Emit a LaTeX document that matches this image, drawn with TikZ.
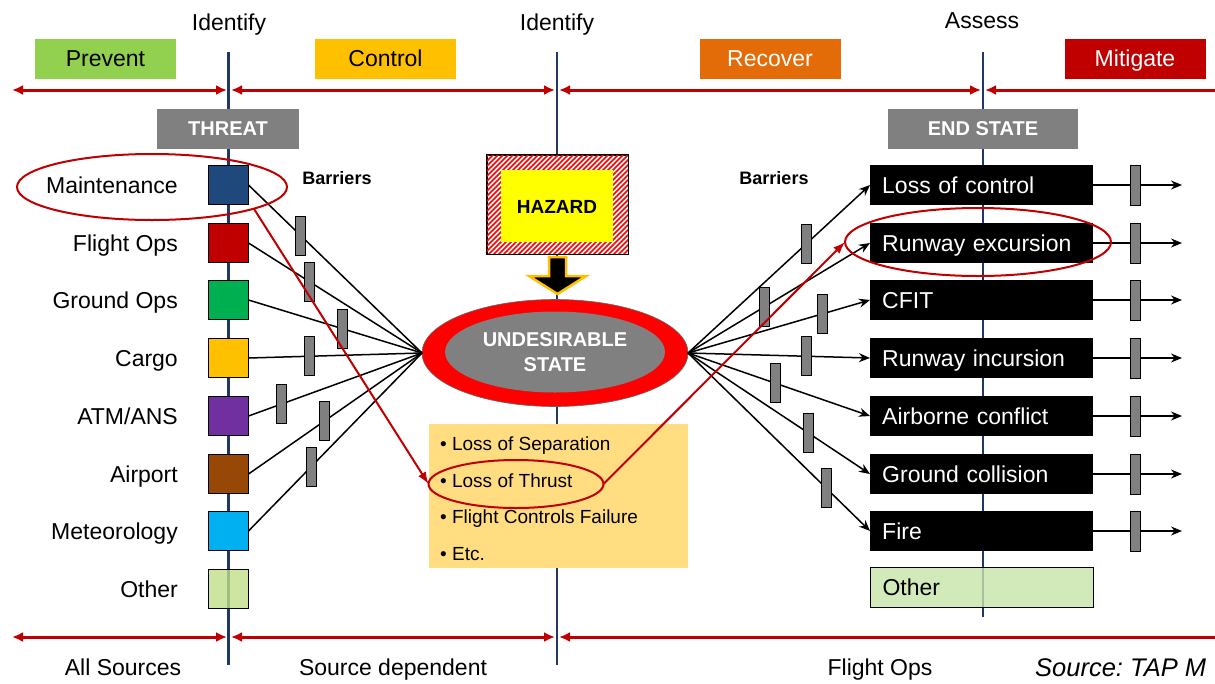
\documentclass[tikz,border=0pt]{standalone}
\usepackage{fontspec}
\setmainfont{Liberation Sans}
\usetikzlibrary{arrows.meta,shapes.geometric}

\definecolor{navy}{HTML}{1F3864}
\definecolor{darkred}{HTML}{C00000}
\definecolor{brightred}{HTML}{FF0000}
\definecolor{prevgreen}{HTML}{92D050}
\definecolor{amber}{HTML}{FFC000}
\definecolor{recorange}{HTML}{E36C09}
\definecolor{midgray}{HTML}{808080}
\definecolor{listbg}{HTML}{FFDD80}
\definecolor{hazyellow}{HTML}{FFFF00}
\definecolor{cmaint}{HTML}{1F497D}
\definecolor{cground}{HTML}{00B050}
\definecolor{catm}{HTML}{7030A0}
\definecolor{cairport}{HTML}{974706}
\definecolor{cmeteo}{HTML}{00B0F0}
\definecolor{cother}{HTML}{C0DF8A}
\definecolor{cotherend}{HTML}{C7E3A8}

\begin{document}
\begin{tikzpicture}[x=1pt,y=-1pt,
  big/.style={font=\fontsize{23}{27}\selectfont},
  phase/.style={rectangle,inner sep=0,minimum width=141,minimum height=40,
    big,text height=18,text depth=4},
  hdr/.style={rectangle,fill=midgray,text=white,inner sep=0,minimum height=40,
    font=\fontsize{20}{24}\selectfont\bfseries,text height=15,text depth=3},
  threatsq/.style={rectangle,draw=black,line width=1,inner sep=0,
    minimum width=40,minimum height=39},
  lbl/.style={anchor=base east,inner sep=0,big},
  toplbl/.style={anchor=base,inner sep=0,big},
  barrier/.style={rectangle,draw=black,fill=midgray,line width=0.8,inner sep=0,
    minimum width=10,minimum height=39},
  conn/.style={draw=black,line width=1.5},
  tip/.style={-{Stealth[length=11,width=9]}},
  endbox/.style={rectangle,anchor=west,fill=black,text=white,big,inner ysep=0,
    inner xsep=12,text width=199,align=left,minimum height=40,
    text height=21,text depth=5},
  navyline/.style={draw=navy,line width=2.5},
  phasearrow/.style={draw=darkred,line width=3,{Latex[length=11,width=10]}-{Latex[length=11,width=10]}},
  phaseline/.style={draw=darkred,line width=3},
  ring/.style={ellipse,draw=darkred,line width=2,inner sep=0,outer sep=0},
  redarrow/.style={draw=darkred,line width=2,-{Latex[length=12,width=9]}},
  bullet/.style={anchor=base west,inner sep=0,font=\fontsize{19}{23}\selectfont},
  barlbl/.style={anchor=base,inner sep=0,font=\fontsize{18}{22}\selectfont\bfseries},
]
\useasboundingbox (0,0) rectangle (1215,683);

% phase timeline: vertical separators
\draw[navyline] (228.5,52) -- (228.5,665);
\draw[navyline] (557,52) -- (557,665);
\draw[navyline] (983,52) -- (983,617);

% phase titles
\node[toplbl] (id1) at (229,30) {Identify};
\node[toplbl] (id2) at (557,30) {Identify};
\node[toplbl] (as1) at (982,28) {Assess};

\node[phase,fill=prevgreen] (prevent) at (105.5,59) {Prevent};
\node[phase,fill=amber] (control) at (385.5,59) {Control};
\node[phase,fill=recorange,text=white] (recover) at (770,59) {Recover};
\node[phase,fill=darkred,text=white] (mitigate) at (1135,59) {Mitigate};

% top span arrows
\coordinate (tA) at (12,90);   \coordinate (tB) at (227,90);
\coordinate (tC) at (231,90);  \coordinate (tD) at (555,90);
\coordinate (tE) at (559,90);  \coordinate (tF) at (981,90);
\coordinate (tG) at (985,90);  \coordinate (tH) at (1215,90);
\draw[phasearrow] (tA) -- (tB);
\draw[phasearrow] (tC) -- (tD);
\draw[phasearrow] (tE) -- (tF);
\draw[phaseline,{Latex[length=11,width=10]}-] (tG) -- (tH);

% bottom span arrows
\coordinate (bA) at (12,637);   \coordinate (bB) at (227,637);
\coordinate (bC) at (231,637);  \coordinate (bD) at (555,637);
\coordinate (bE) at (559,637);  \coordinate (bF) at (1215,637);
\draw[phasearrow] (bA) -- (bB);
\draw[phasearrow] (bC) -- (bD);
\draw[phaseline,{Latex[length=11,width=10]}-] (bE) -- (bF);

% bottom captions
\node[toplbl] (cap1) at (123,675) {All Sources};
\node[toplbl] (cap2) at (393,675) {Source dependent};
\node[toplbl] (cap3) at (880,675) {Flight Ops};
\node[anchor=base west,inner sep=0,font=\fontsize{25.5}{30}\selectfont\itshape] (src) at (1035,676) {Source:~TAP M};

% column headers
\node[hdr,minimum width=142] (threat) at (228,129) {THREAT};
\node[hdr,minimum width=190] (endstate) at (983,129) {END STATE};

% threats
\node[threatsq,fill=cmaint]    (t1) at (228,185) {};
\node[threatsq,fill=darkred]   (t2) at (228,243) {};
\node[threatsq,fill=cground]   (t3) at (228,300) {};
\node[threatsq,fill=amber]     (t4) at (228,358) {};
\node[threatsq,fill=catm]      (t5) at (228,416) {};
\node[threatsq,fill=cairport]  (t6) at (228,474) {};
\node[threatsq,fill=cmeteo]    (t7) at (228,531) {};
\node[threatsq,fill=cother,fill opacity=0.8] (t8) at (228,589) {};

\node[lbl] (l1) at (178,193) {Maintenance};
\node[lbl] (l2) at (178,251) {Flight Ops};
\node[lbl] (l3) at (178,308) {Ground Ops};
\node[lbl] (l4) at (178,366) {Cargo};
\node[lbl] (l5) at (178,424) {ATM/ANS};
\node[lbl] (l6) at (178,482) {Airport};
\node[lbl] (l7) at (178,539) {Meteorology};
\node[lbl] (l8) at (178,597) {Other};

\node[barlbl] (barL) at (337,184) {Barriers};
\node[barlbl] (barR) at (774,184) {Barriers};

% hazard with hatched frame
\node[rectangle,draw=black,line width=1,fill=white,inner sep=0,
  minimum width=141,minimum height=99] (hz) at (557.5,204.5) {};
\begin{scope}
  \clip (hz.south west) rectangle (hz.north east);
  \foreach \i in {0,5,...,250}
    \draw[brightred,line width=1.7] ({382+\i},256) -- ++(112,-112);
\end{scope}
\draw[black,line width=1] (hz.south west) rectangle (hz.north east);
\node[rectangle,fill=hazyellow,inner sep=0,minimum width=112,minimum height=72,
  font=\fontsize{19}{23}\selectfont\bfseries,text height=14,text depth=0] (hzin) at (557,206) {HAZARD};

% block arrow from hazard to undesirable state
\filldraw[fill=black,draw=amber,line width=2.5,line join=miter]
  (549,257) -- (566,257) -- (566,276) -- (586,276) -- (557.5,294)
  -- (529,276) -- (549,276) -- cycle;

% undesirable state
\node[ellipse,fill=brightred,draw=black!60,line width=0.6,inner sep=0,outer sep=0,
  minimum width=266,minimum height=107] (us) at (555,353) {};
\node[ellipse,fill=midgray,inner sep=0,minimum width=220,minimum height=81,
  text=white,align=center,font=\fontsize{20}{25}\selectfont\bfseries] (usin) at (555,352)
  {UNDESIRABLE\\STATE};

% example undesirable states
\node[rectangle,fill=listbg,inner sep=0,minimum width=259,minimum height=144] (lst) at (558.5,496) {};
\node[bullet] (b1) at (440,450) {• Loss of Separation};
\node[bullet] (b2) at (440,487) {• Loss of Thrust};
\node[bullet] (b3) at (440,523) {• Flight Controls Failure};
\node[bullet] (b4) at (440,560) {• Etc.};

% threat lines through barriers
\draw[conn] (t1.east) -- node[barrier,pos=0.30] (k1) {} (us.west);
\draw[conn] (t2.east) -- node[barrier,pos=0.35] (k2) {} (us.west);
\draw[conn] (t3.east) -- node[barrier,pos=0.54] (k3) {} (us.west);
\draw[conn] (t4.east) -- node[barrier,pos=0.35] (k4) {} (us.west);
\draw[conn] (t5.east) -- node[barrier,pos=0.19] (k5) {} (us.west);
\draw[conn] (t6.east) -- node[barrier,pos=0.44] (k6) {} (us.west);
\draw[conn] (t7.east) -- node[barrier,pos=0.36] (k7) {} (us.west);

% end states
\node[endbox] (e1) at (870,185) {Loss of control};
\node[endbox] (e2) at (870,243) {Runway excursion};
\node[endbox] (e3) at (870,300) {CFIT};
\node[endbox] (e4) at (870,358) {Runway incursion};
\node[endbox] (e5) at (870,416) {Airborne conflict};
\node[endbox] (e6) at (870,474) {Ground collision};
\node[endbox] (e7) at (870,531) {Fire};
\node[endbox,fill=cotherend,fill opacity=0.8,text opacity=1,text=black,draw=black,line width=1] (e8) at (870,587) {Other};

% consequence lines through barriers
\draw[conn,tip] (us.east) -- node[barrier,pos=0.65] (r1) {} (e1.west);
\draw[conn,tip] (us.east) -- node[barrier,pos=0.42] (r2) {} (e2.west);
\draw[conn,tip] (us.east) -- node[barrier,pos=0.74] (r3) {} (e3.west);
\draw[conn,tip] (us.east) -- node[barrier,pos=0.65] (r4) {} (e4.west);
\draw[conn,tip] (us.east) -- node[barrier,pos=0.48] (r5) {} (e5.west);
\draw[conn,tip] (us.east) -- node[barrier,pos=0.66] (r6) {} (e6.west);
\draw[conn,tip] (us.east) -- node[barrier,pos=0.76] (r7) {} (e7.west);

% mitigation barriers after end states
\foreach \n/\y in {1/185,2/243,3/300,4/358,5/416,6/474,7/531}{
  \coordinate (o\n) at (1182,\y);
  \draw[conn,tip] (e\n.east) -- node[barrier,pos=0.47,minimum height=40] (m\n) {} (o\n);
}

% highlighted scenario
\node[ring,minimum width=270,minimum height=66] (mell) at (152,187) {};
\node[ring,minimum width=175,minimum height=48] (thr) at (516,484) {};
\node[ring,minimum width=266,minimum height=68] (rex) at (978,242) {};
\draw[redarrow] (mell.-12) -- (thr.west);
\draw[redarrow] (thr.east) -- (rex.west);

\end{tikzpicture}
\end{document}
